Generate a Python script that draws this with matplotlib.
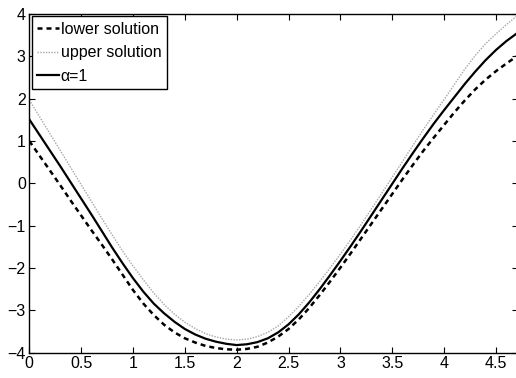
import numpy as np
import matplotlib.pyplot as plt

plt.rcParams['font.family'] = ['Liberation Sans', 'DejaVu Sans']

# values at x = 0, 0.1, ..., 4.7
x = [round(0.1 * i, 1) for i in range(48)]

lower = [1.00, 0.65, 0.30, -0.05, -0.41, -0.76, -1.11, -1.45, -1.80, -2.16,
         -2.52, -2.84, -3.11, -3.34, -3.52, -3.66, -3.76, -3.84, -3.89, -3.92,
         -3.93, -3.91, -3.86, -3.76, -3.62, -3.44, -3.21, -2.94, -2.64, -2.32,
         -1.99, -1.65, -1.30, -0.95, -0.60, -0.25, 0.10, 0.44, 0.77, 1.08,
         1.38, 1.68, 1.96, 2.22, 2.45, 2.65, 2.83, 3.00]

upper = [1.97, 1.57, 1.17, 0.77, 0.37, -0.03, -0.43, -0.83, -1.22, -1.60,
         -1.95, -2.28, -2.59, -2.86, -3.09, -3.28, -3.43, -3.55, -3.63, -3.68,
         -3.70, -3.68, -3.62, -3.52, -3.37, -3.15, -2.90, -2.62, -2.32, -2.00,
         -1.67, -1.33, -0.97, -0.60, -0.23, 0.15, 0.52, 0.90, 1.27, 1.63,
         1.98, 2.34, 2.70, 3.02, 3.30, 3.53, 3.75, 3.95]

alpha1 = [1.51, 1.14, 0.77, 0.40, 0.02, -0.36, -0.74, -1.13, -1.52, -1.89,
          -2.24, -2.56, -2.84, -3.07, -3.27, -3.44, -3.57, -3.67, -3.74, -3.79,
          -3.82, -3.80, -3.75, -3.66, -3.52, -3.33, -3.09, -2.81, -2.50, -2.17,
          -1.83, -1.48, -1.12, -0.75, -0.38, -0.01, 0.36, 0.72, 1.07, 1.41,
          1.73, 2.04, 2.35, 2.64, 2.91, 3.15, 3.36, 3.54]

fig = plt.figure(figsize=(5.16, 3.78), dpi=100)
ax = fig.add_axes([29.3 / 516, 1 - 352.7 / 378, (518 - 29.3) / 516, (352.7 - 14) / 378])

ax.plot(x, lower, color='black', lw=1.8, linestyle=(0, (2, 1.6)), label='lower solution')
ax.plot(x, upper, color='0.65', lw=1.0, linestyle=(0, (1, 1)), label='upper solution')
ax.plot(x, alpha1, color='black', lw=1.6, label='\u03b1=1')

ax.set_xlim(0, 3 * np.pi / 2)
ax.set_ylim(-4, 4)
ax.set_xticks(np.arange(0, 4.6, 0.5))
ax.set_xticklabels(['0', '0.5', '1', '1.5', '2', '2.5', '3', '3.5', '4', '4.5'])
ax.set_yticks(range(-4, 5))
ax.tick_params(direction='in', length=4, width=0.8, top=True, right=True,
               labelsize=11.5, pad=2.5)
for s in ax.spines.values():
    s.set_linewidth(1.0)

leg = ax.legend(loc='upper left', fontsize=11.5, fancybox=False, framealpha=1,
                edgecolor='black', handlelength=1.4, handletextpad=0.1,
                labelspacing=0.55, borderaxespad=0.15, borderpad=0.32)
leg.get_frame().set_linewidth(1.0)

fig.savefig('out.png', dpi=100)
